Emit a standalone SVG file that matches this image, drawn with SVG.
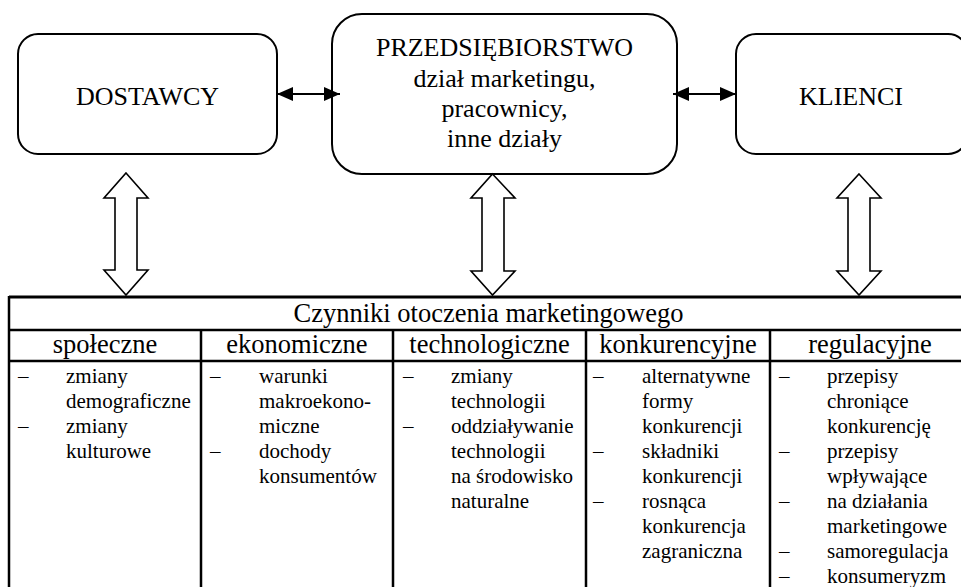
<svg xmlns="http://www.w3.org/2000/svg" width="961" height="587" viewBox="0 0 961 587">
<style>
  text { font-family: "Liberation Serif", "Times New Roman", serif; fill: #000; }
  .box { fill: #fff; stroke: #000; stroke-width: 2; }
  .big { font-size: 26px; text-anchor: middle; }
  .hdr { font-size: 26.5px; text-anchor: middle; }
  .body { font-size: 21px; }
  .blk { fill: #fff; stroke: #000; stroke-width: 1.6; stroke-linejoin: miter; }
  .ln { stroke: #000; fill: none; }
  .conn { stroke: #000; stroke-width: 2.2; }
</style>
<defs>
  <marker id="ah" viewBox="0 0 16 14" refX="16" refY="7" markerWidth="16" markerHeight="14" markerUnits="userSpaceOnUse" orient="auto-start-reverse">
    <path d="M0,0 L16,7 L0,14 Z" fill="#000"/>
  </marker>
</defs>
<rect width="961" height="587" fill="#fff"/>

<g id="dostawcy">
  <rect class="box" x="18" y="34" width="259" height="120" rx="20" ry="20"/>
  <text class="big" x="147.5" y="105">DOSTAWCY</text>
</g>
<g id="przedsiebiorstwo">
  <rect class="box" x="332" y="14" width="345" height="160" rx="30" ry="30"/>
  <text class="big" x="504.5" y="56">PRZEDSIĘBIORSTWO</text>
  <text class="big" x="504.5" y="87">dział marketingu,</text>
  <text class="big" x="504.5" y="117">pracownicy,</text>
  <text class="big" x="504.5" y="147">inne działy</text>
</g>
<g id="klienci">
  <rect class="box" x="736" y="34" width="232" height="120" rx="20" ry="20"/>
  <text class="big" x="851" y="105">KLIENCI</text>
</g>

<g id="connectors">
  <line class="conn" x1="277" y1="94" x2="340" y2="94" marker-start="url(#ah)" marker-end="url(#ah)"/>
  <line class="conn" x1="673" y1="94" x2="736" y2="94" marker-start="url(#ah)" marker-end="url(#ah)"/>
  <polygon class="blk" points="126,173 148,198 137,198 137,270 148,270 126,295 104,270 115,270 115,198 104,198"/>
  <polygon class="blk" points="492.5,174 515,198 504,198 504,271 515,271 492.5,295 471,271 482,271 482,198 471,198"/>
  <polygon class="blk" points="859,174 881,198 870,198 870,271 881,271 859,295 837,271 848,271 848,198 837,198"/>
</g>

<g id="tabela">
  <line class="ln" x1="9" y1="297" x2="970" y2="297" stroke-width="3"/>
  <line class="ln" x1="9" y1="330" x2="970" y2="330" stroke-width="2.5"/>
  <line class="ln" x1="9" y1="361" x2="970" y2="361" stroke-width="2.5"/>
  <line class="ln" x1="9" y1="296" x2="9" y2="600" stroke-width="2.5"/>
  <line class="ln" x1="201" y1="330" x2="201" y2="600" stroke-width="2.5"/>
  <line class="ln" x1="393" y1="330" x2="393" y2="600" stroke-width="2.5"/>
  <line class="ln" x1="586" y1="330" x2="586" y2="600" stroke-width="2.5"/>
  <line class="ln" x1="770" y1="330" x2="770" y2="600" stroke-width="2.5"/>

  <text class="hdr" x="488.5" y="322">Czynniki otoczenia marketingowego</text>
  <text class="hdr" x="105" y="353">społeczne</text>
  <text class="hdr" x="297" y="353">ekonomiczne</text>
  <text class="hdr" x="489.5" y="353">technologiczne</text>
  <text class="hdr" x="678" y="353">konkurencyjne</text>
  <text class="hdr" x="870" y="353">regulacyjne</text>

  <g class="body">
    <text class="body" x="18" y="383">–</text>
    <text class="body" x="66" y="383">zmiany</text>
    <text class="body" x="66" y="408">demograficzne</text>
    <text class="body" x="18" y="433">–</text>
    <text class="body" x="66" y="433">zmiany</text>
    <text class="body" x="66" y="458">kulturowe</text>

    <text class="body" x="210" y="383">–</text>
    <text class="body" x="259" y="383">warunki</text>
    <text class="body" x="259" y="408">makroekono-</text>
    <text class="body" x="259" y="433">miczne</text>
    <text class="body" x="210" y="458">–</text>
    <text class="body" x="259" y="458">dochody</text>
    <text class="body" x="259" y="483">konsumentów</text>

    <text class="body" x="403" y="383">–</text>
    <text class="body" x="451" y="383">zmiany</text>
    <text class="body" x="451" y="408">technologii</text>
    <text class="body" x="403" y="433">–</text>
    <text class="body" x="451" y="433">oddziaływanie</text>
    <text class="body" x="451" y="458">technologii</text>
    <text class="body" x="451" y="483">na środowisko</text>
    <text class="body" x="451" y="508">naturalne</text>

    <text class="body" x="593" y="383">–</text>
    <text class="body" x="642" y="383">alternatywne</text>
    <text class="body" x="642" y="408">formy</text>
    <text class="body" x="642" y="433">konkurencji</text>
    <text class="body" x="593" y="458">–</text>
    <text class="body" x="642" y="458">składniki</text>
    <text class="body" x="642" y="483">konkurencji</text>
    <text class="body" x="593" y="508">–</text>
    <text class="body" x="642" y="508">rosnąca</text>
    <text class="body" x="642" y="533">konkurencja</text>
    <text class="body" x="642" y="558">zagraniczna</text>

    <text class="body" x="779" y="383">–</text>
    <text class="body" x="827" y="383">przepisy</text>
    <text class="body" x="827" y="408">chroniące</text>
    <text class="body" x="827" y="433">konkurencję</text>
    <text class="body" x="779" y="458">–</text>
    <text class="body" x="827" y="458">przepisy</text>
    <text class="body" x="827" y="483">wpływające</text>
    <text class="body" x="779" y="508">–</text>
    <text class="body" x="827" y="508">na działania</text>
    <text class="body" x="827" y="533">marketingowe</text>
    <text class="body" x="779" y="558">–</text>
    <text class="body" x="827" y="558">samoregulacja</text>
    <text class="body" x="779" y="583">–</text>
    <text class="body" x="827" y="583">konsumeryzm</text>
  </g>
</g>
</svg>
